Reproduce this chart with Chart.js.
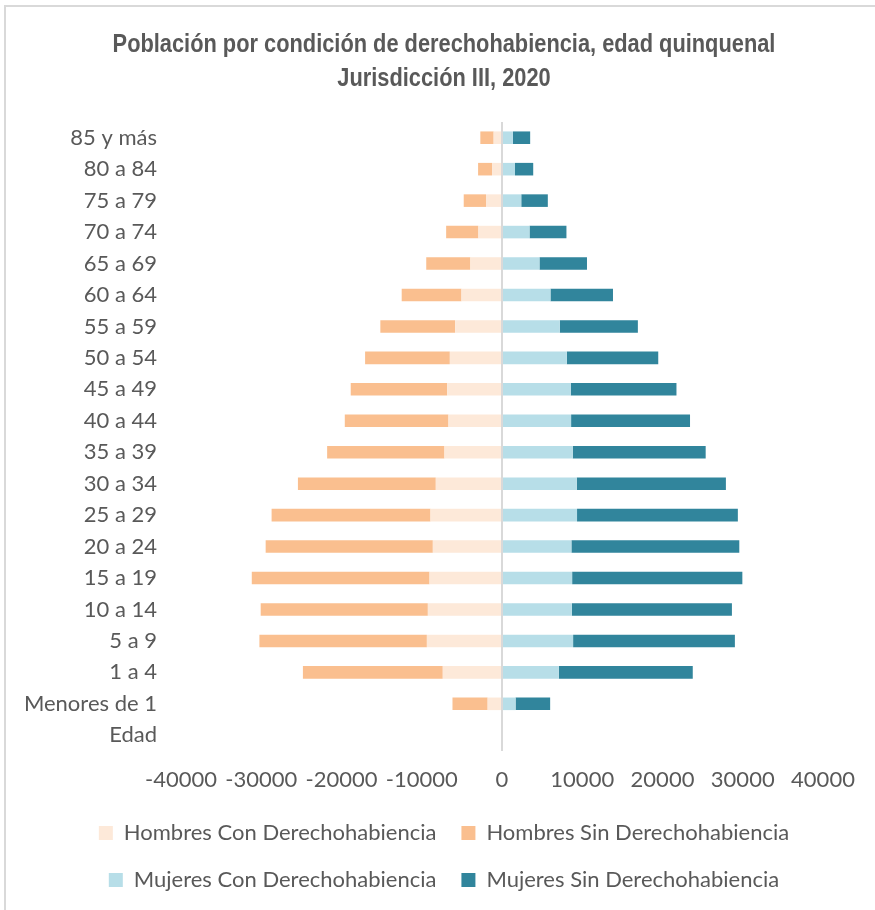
<!DOCTYPE html>
<html lang="es">
<head>
<meta charset="utf-8">
<title>Población por condición de derechohabiencia</title>
<script src="https://cdn.jsdelivr.net/npm/chart.js@4.4.1/dist/chart.umd.min.js"></script>
<style>
  html, body { margin: 0; padding: 0; background: #fff; overflow: hidden; }
  #marco { position: absolute; left: 4px; top: 5px; width: 950px; height: 1000px; border: 2px solid #d9d9d9; }
  #grafica { position: absolute; left: 0; top: 0; }
  #titulo {
    position: absolute; left: 0; top: 26px; width: 888px;
    text-align: center; color: #595959;
    font: bold 26.6px/34px 'Liberation Sans', Arial, sans-serif;
    transform: scaleX(0.82); transform-origin: 50% 0;
    white-space: nowrap;
  }
</style>
</head>
<body>
<div id="marco"></div>
<canvas id="grafica" width="875" height="910"></canvas>
<div id="titulo">Población por condición de derechohabiencia, edad quinquenal<br>Jurisdicción III, 2020</div>
<script>
// grupos de edad, de arriba hacia abajo
const edades = ['85 y más', '80 a 84', '75 a 79', '70 a 74', '65 a 69', '60 a 64', '55 a 59',
  '50 a 54', '45 a 49', '40 a 44', '35 a 39', '30 a 34', '25 a 29', '20 a 24', '15 a 19',
  '10 a 14', '5 a 9', '1 a 4', 'Menores de 1', 'Edad'];

// poblacion (hombres se dibujan a la izquierda)
const hombresCon = [1040, 1240, 1990, 2940, 3940, 5050, 5840, 6500, 6840, 6670, 7170, 8250, 8910, 8620, 9030, 9240, 9360, 7380, 1790, null];
const hombresSin = [1660, 1740, 2780, 4020, 5500, 7450, 9320, 10560, 12010, 12920, 14620, 17180, 19800, 20830, 22150, 20830, 20870, 17430, 4380, null];
const mujeresCon = [1360, 1620, 2400, 3430, 4670, 6040, 7200, 8080, 8570, 8610, 8820, 9320, 9350, 8650, 8740, 8700, 8860, 7080, 1690, null];
const mujeresSin = [2150, 2270, 3310, 4600, 5920, 7790, 9730, 11390, 13170, 14820, 16560, 18580, 20040, 20920, 21210, 19950, 20160, 16690, 4310, null];

const ticksX = [-40000, -30000, -20000, -10000, 0, 10000, 20000, 30000, 40000];

const gris = '#595959';
const fuenteEjes = "Lato, 'Noto Sans', sans-serif";

const negativo = arr => arr.map(v => v == null ? null : -v);

function serie(label, data, color) {
    return {
        label: label,
        data: data,
        backgroundColor: color,
        borderWidth: 0,
        stack: 'piramide',
        barPercentage: 0.4,
        categoryPercentage: 1.0
    };
}

const ctx = document.getElementById('grafica').getContext('2d');
new Chart(ctx, {
    type: 'bar',
    data: {
        labels: edades,
        datasets: [
            serie('Hombres Con Derechohabiencia', negativo(hombresCon), '#FDE9D9'),
            serie('Hombres Sin Derechohabiencia', negativo(hombresSin), '#FABF8F'),
            serie('Mujeres Con Derechohabiencia', mujeresCon, '#B7DEE8'),
            serie('Mujeres Sin Derechohabiencia', mujeresSin, '#31859C')
        ]
    },
    options: {
        indexAxis: 'y',
        responsive: false,
        animation: false,
        layout: { padding: { left: 20, right: 7, top: 122, bottom: 9 } },
        plugins: {
            title: { display: false },
            legend: {
                position: 'bottom',
                labels: {
                    color: gris,
                    font: { family: fuenteEjes, size: 22 },
                    boxWidth: 14,
                    boxHeight: 14,
                    padding: 25
                }
            },
            tooltip: {
                callbacks: {
                    label: function(context) {
                        return context.dataset.label + ': ' + Math.abs(context.parsed.x);
                    }
                }
            }
        },
        scales: {
            x: {
                stacked: true,
                min: ticksX[0],
                max: ticksX[ticksX.length - 1],
                afterBuildTicks: scale => { scale.ticks = ticksX.map(v => ({ value: v })); },
                afterFit: scale => {
                    scale.height = 46;
                    scale.paddingRight = 52; // deja espacio a la derecha como en el original
                },
                ticks: {
                    color: gris,
                    font: { family: fuenteEjes, size: 22 },
                    padding: 16,
                    maxRotation: 0,
                    callback: v => String(v)
                },
                grid: {
                    drawTicks: false,
                    lineWidth: 2,
                    color: c => (c.tick && c.tick.value === 0) ? '#d9d9d9' : 'rgba(0,0,0,0)'
                },
                border: { display: false }
            },
            y: {
                stacked: true,
                afterFit: scale => { scale.width = 161; },
                ticks: {
                    color: gris,
                    font: { family: fuenteEjes, size: 22 },
                    padding: 24
                },
                grid: { display: false, drawTicks: false },
                border: { display: false }
            }
        }
    }
});
</script>
</body>
</html>
